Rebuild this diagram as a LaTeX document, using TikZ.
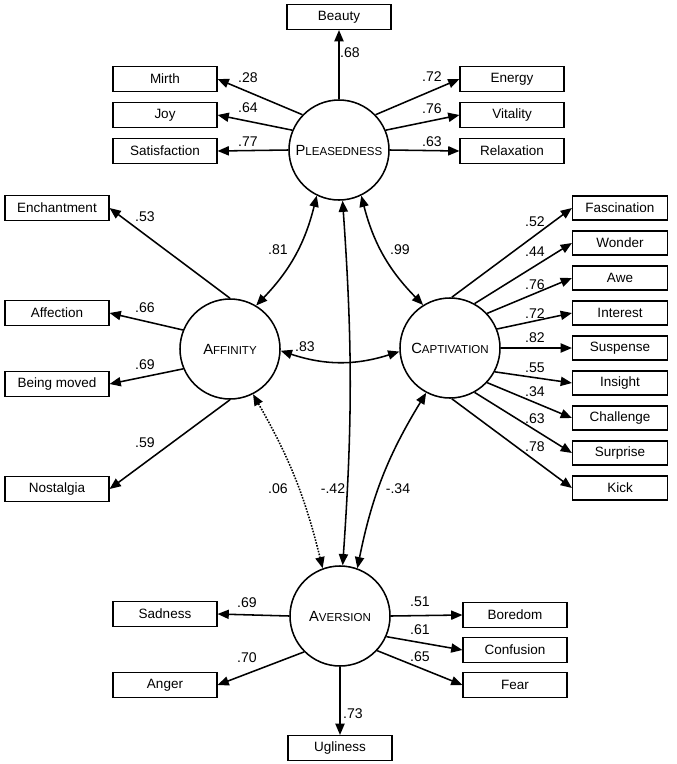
\documentclass[tikz,border=0pt]{standalone}
\usepackage{fontspec}
\setmainfont{Liberation Sans}
\usetikzlibrary{calc, positioning, arrows.meta}
\newcommand{\fsc}[2]{{\fontsize{10.5}{12}\selectfont #1}{\fontsize{8.2}{10}\selectfont #2}}

\begin{document}
\begin{tikzpicture}[
  fac/.style={circle, draw, line width=1.1pt, minimum size=2.5cm, inner sep=0pt},
  ind/.style={rectangle, draw, line width=0.8pt, minimum width=2.6cm,
    minimum height=0.625cm, font=\fontsize{9.6}{11}\selectfont},
  indr/.style={ind, minimum width=2.375cm, minimum height=0.6cm},
  load/.style={-{Triangle[length=8pt, width=6.5pt]}, line width=1.1pt},
  cor/.style={{Triangle[length=8pt, width=6.5pt]}-{Triangle[length=8pt, width=6.5pt]}, line width=1.1pt},
  lbl/.style={font=\fontsize{10}{12}\selectfont, inner sep=1pt}
]
\useasboundingbox (0,0) rectangle (16.925,-19.1);

% factors
\node[fac] (pl) at (8.475,-3.75) {\fsc{P}{LEASEDNESS}};
\node[fac] (af) at (5.75,-8.725) {\fsc{A}{FFINITY}};
\node[fac] (ca) at (11.25,-8.7) {\fsc{C}{APTIVATION}};
\node[fac] (av) at (8.5,-15.4) {\fsc{A}{VERSION}};

% pleasedness
\node[ind] (beauty) at (8.475,-0.425) {Beauty};
\node[ind] (mirth) at (4.125,-1.975) {Mirth};
\node[ind] (joy) at (4.125,-2.875) {Joy};
\node[ind] (satis) at (4.125,-3.775) {Satisfaction};
\node[ind] (energy) at (12.8,-1.975) {Energy};
\node[ind] (vital) at (12.8,-2.875) {Vitality};
\node[ind] (relax) at (12.8,-3.775) {Relaxation};
\draw[load] (pl.north) -- (beauty.south);
\draw[load] (pl.136) -- (mirth.east);
\draw[load] (pl.157) -- (joy.east);
\draw[load] (pl.180) -- (satis.east);
\draw[load] (pl.44) -- (energy.west);
\draw[load] (pl.23) -- (vital.west);
\draw[load] (pl.0) -- (relax.west);
\node[lbl] (lbeauty) at (8.75,-1.325) {.68};
\node[lbl] (lmirth) at (6.2,-1.95) {.28};
\node[lbl] (ljoy) at (6.2,-2.7) {.64};
\node[lbl] (lsatis) at (6.2,-3.55) {.77};
\node[lbl] (lenergy) at (10.8,-1.925) {.72};
\node[lbl] (lvital) at (10.8,-2.725) {.76};
\node[lbl] (lrelax) at (10.8,-3.55) {.63};

% affinity
\node[ind] (ench) at (1.425,-5.2) {Enchantment};
\node[ind] (affec) at (1.425,-7.825) {Affection};
\node[ind] (moved) at (1.425,-9.6) {Being moved};
\node[ind] (nost) at (1.425,-12.225) {Nostalgia};
\draw[load] (af.north) -- (ench.east);
\draw[load] (af.158) -- (affec.east);
\draw[load] (af.203) -- (moved.east);
\draw[load] (af.south) -- (nost.east);
\node[lbl] (lench) at (3.625,-5.425) {.53};
\node[lbl] (laffec) at (3.625,-7.7) {.66};
\node[lbl] (lmoved) at (3.625,-9.125) {.69};
\node[lbl] (lnost) at (3.625,-11.075) {.59};

% captivation
\node[indr] (fasc) at (15.5,-5.2) {Fascination};
\node[indr] (wonder) at (15.5,-6.075) {Wonder};
\node[indr] (awe) at (15.5,-6.95) {Awe};
\node[indr] (inter) at (15.5,-7.825) {Interest};
\node[indr] (susp) at (15.5,-8.7) {Suspense};
\node[indr] (insight) at (15.5,-9.575) {Insight};
\node[indr] (chall) at (15.5,-10.45) {Challenge};
\node[indr] (surpr) at (15.5,-11.325) {Surprise};
\node[indr] (kick) at (15.5,-12.2) {Kick};
\draw[load] (ca.88) -- (fasc.west);
\draw[load] (ca.61) -- (wonder.west);
\draw[load] (ca.43) -- (awe.west);
\draw[load] (ca.22) -- (inter.west);
\draw[load] (ca.0) -- (susp.west);
\draw[load] (ca.-28) -- (insight.west);
\draw[load] (ca.-43) -- (chall.west);
\draw[load] (ca.-61) -- (surpr.west);
\draw[load] (ca.-88) -- (kick.west);
\node[lbl] (lfasc) at (13.375,-5.55) {.52};
\node[lbl] (lwonder) at (13.375,-6.3) {.44};
\node[lbl] (lawe) at (13.375,-7.125) {.76};
\node[lbl] (linter) at (13.375,-7.85) {.72};
\node[lbl] (lsusp) at (13.375,-8.45) {.82};
\node[lbl] (linsight) at (13.375,-9.2) {.55};
\node[lbl] (lchall) at (13.375,-9.8) {.34};
\node[lbl] (lsurpr) at (13.375,-10.475) {.63};
\node[lbl] (lkick) at (13.375,-11.175) {.78};

% aversion
\node[ind] (sad) at (4.125,-15.35) {Sadness};
\node[ind] (anger) at (4.125,-17.125) {Anger};
\node[ind] (bored) at (12.875,-15.375) {Boredom};
\node[ind] (confu) at (12.875,-16.25) {Confusion};
\node[ind] (fear) at (12.875,-17.125) {Fear};
\node[ind] (ugly) at (8.5,-18.7) {Ugliness};
\draw[load] (av.180) -- (sad.east);
\draw[load] (av.225) -- (anger.east);
\draw[load] (av.0) -- (bored.west);
\draw[load] (av.-24) -- (confu.west);
\draw[load] (av.-43) -- (fear.west);
\draw[load] (av.south) -- (ugly.north);
\node[lbl] (lsad) at (6.175,-15.075) {.69};
\node[lbl] (langer) at (6.175,-16.45) {.70};
\node[lbl] (lbored) at (10.5,-15.05) {.51};
\node[lbl] (lconfu) at (10.5,-15.75) {.61};
\node[lbl] (lfear) at (10.5,-16.425) {.65};
\node[lbl] (lugly) at (8.825,-17.85) {.73};

% correlations
\draw[cor] (pl.244) to[bend left=15] (af.59);
\draw[cor] (pl.296) to[bend right=15] (ca.122);
\draw[cor] (pl.-86) to[bend left=4] (av.87);
\draw[cor] (af.358) to[bend right=18] (ca.184);
\draw[cor, densely dotted] (af.-63) to[bend left=8] (av.110);
\draw[cor] (ca.242) to[bend right=10] (av.70);
\node[lbl] (lplaf) at (6.95,-6.25) {.81};
\node[lbl] (lplca) at (10,-6.25) {.99};
\node[lbl] (lafca) at (7.625,-8.675) {.83};
\node[lbl] (lafav) at (6.95,-12.225) {.06};
\node[lbl] (lplav) at (8.325,-12.225) {-.42};
\node[lbl] (lcaav) at (9.95,-12.225) {-.34};
\end{tikzpicture}
\end{document}
